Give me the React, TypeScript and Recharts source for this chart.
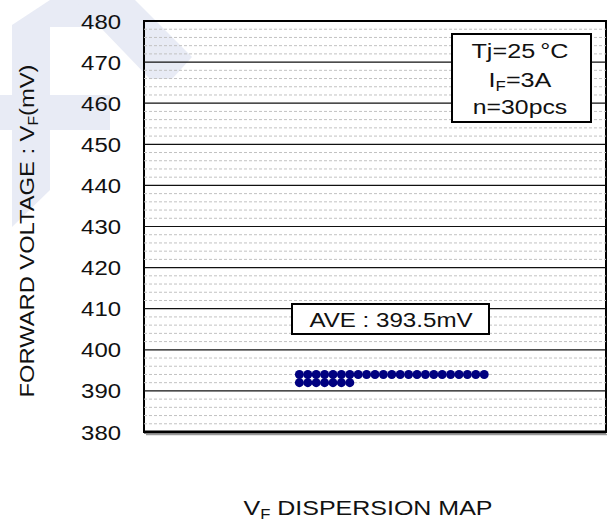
import React from 'react';
import { ScatterChart, Scatter, XAxis, YAxis, ReferenceLine, ReferenceArea } from 'recharts';

// ---- data ----
const yTicks = [380, 390, 400, 410, 420, 430, 440, 450, 460, 470, 480];
const majorGrid = [390, 400, 410, 420, 430, 440, 450, 460, 470];
const minorGrid = [382, 384, 386, 388, 392, 394, 396, 398, 402, 404, 406, 408, 412, 414, 416, 418, 422, 424, 426, 428, 432, 434, 436, 438, 442, 444, 446, 448, 452, 454, 456, 458, 462, 464, 466, 468, 472, 474, 476, 478];
const topRowSample = [1, 2, 3, 4, 5, 6, 7, 8, 9, 10, 11, 12, 13, 14, 15, 16, 17, 18, 19, 20, 21, 22, 23];
const topRowVF = [394, 394, 394, 394, 394, 394, 394, 394, 394, 394, 394, 394, 394, 394, 394, 394, 394, 394, 394, 394, 394, 394, 394];
const bottomRowSample = [1, 2, 3, 4, 5, 6, 7];
const bottomRowVF = [392, 392, 392, 392, 392, 392, 392];
const averageVF = 393.5;
const xDomain = [-17.5, 37.5];
const yDomain = [380, 480];

const topData = topRowSample.map((s, i) => ({ sample: s, vf: topRowVF[i] }));
const bottomData = bottomRowSample.map((s, i) => ({ sample: s, vf: bottomRowVF[i] }));

const FONT = '"Liberation Sans", Arial, sans-serif';
const INK = '#111';

function SText({ x, y, sx = 1.15, anchor = 'middle', size = 21, children }: any) {
  return (
    <text
      transform={`translate(${x},${y}) scale(${sx},1)`}
      textAnchor={anchor}
      fontSize={size}
      fontFamily={FONT}
      fill={INK}
    >
      {children}
    </text>
  );
}

const YTick = (props: any) => {
  const { x, y, payload } = props;
  return <SText x={x} y={y + 7.5} anchor="end" sx={1.14}>{payload.value}</SText>;
};

const Dot = (props: any) => {
  const { cx, cy } = props;
  return <circle cx={cx} cy={cy} r={4.5} fill="#000080" />;
};

export default function App() {
  return (
    <div style={{ position: 'absolute', left: 0, top: 0, width: 608, height: 525, background: '#fff', overflow: 'hidden' }}>
      <svg width={608} height={525} style={{ position: 'absolute', left: 0, top: 0 }}>
        <g fill="#e8ebf5">
          <polygon points="12,25 50,0 50,190 12,227" />
          <polygon points="50,0 80,0 80,27 50,27" />
          <polygon points="0,95 110,95 110,130 0,130" />
          <polygon points="78,0 135,0 192,57 172,79 150,79 100,27 80,27" />
        </g>
      </svg>
      <div style={{ position: 'absolute', left: 0, top: 0 }}>
        <ScatterChart width={608} height={525} margin={{ top: 21, right: 2, bottom: 93, left: 0 }}>
          <XAxis type="number" dataKey="sample" domain={xDomain} hide allowDataOverflow />
          <YAxis
            type="number"
            dataKey="vf"
            domain={yDomain}
            ticks={yTicks}
            width={144}
            axisLine={false}
            tickLine={false}
            tickSize={0}
            tickMargin={23}
            tick={<YTick />}
            interval={0}
            allowDataOverflow
          />
          {minorGrid.map((v) => (
            <ReferenceLine key={'m' + v} y={v} stroke="#c2c2c2" strokeDasharray="3 2" strokeWidth={1} />
          ))}
          {majorGrid.map((v) => (
            <ReferenceLine key={'M' + v} y={v} stroke="#111" strokeWidth={1.2} />
          ))}
          <ReferenceArea x1={xDomain[0]} x2={xDomain[1]} y1={yDomain[0]} y2={yDomain[1]} fill="none" fillOpacity={0} stroke="#000" strokeWidth={2} />
          <ReferenceLine y={yDomain[0]} stroke="#000" strokeWidth={3} />
          <Scatter data={topData} shape={<Dot />} isAnimationActive={false} />
          <Scatter data={bottomData} shape={<Dot />} isAnimationActive={false} />
        </ScatterChart>
      </div>
      <svg width={608} height={525} style={{ position: 'absolute', left: 0, top: 0 }}>
        {/* shadow under the plot frame */}
        <line x1={146} y1={434.5} x2={607} y2={434.5} stroke="#9a9a9a" strokeWidth={1.5} />
        {/* conditions box */}
        <rect x={452} y={34} width={139} height={88} fill="#fff" stroke="#000" strokeWidth={2} />
        <SText x={520} y={58.3} sx={1.2}>{'Tj=25\u2009°C'}</SText>
        <text transform="translate(520,86.7) scale(1.2,1)" textAnchor="middle" fontSize={21} fontFamily={FONT} fill={INK}>
          I<tspan fontSize={14} dy={4}>F</tspan><tspan dy={-4}>=3A</tspan>
        </text>
        <SText x={520} y={114.3} sx={1.18}>n=30pcs</SText>
        {/* average box */}
        <rect x={292} y={304} width={197} height={30} fill="#fff" stroke="#000" strokeWidth={2} />
        <SText x={391} y={326.7} sx={1.15}>{`AVE : ${averageVF}mV`}</SText>
        {/* y axis label */}
        <text transform="translate(34,231) rotate(-90) scale(1.13,1)" textAnchor="middle" fontSize={21} fontFamily={FONT} fill={INK}>
          FORWARD VOLTAGE : V<tspan fontSize={14} dy={4}>F</tspan><tspan dy={-4}>(mV)</tspan>
        </text>
        {/* title */}
        <text transform="translate(368,515) scale(1.19,1)" textAnchor="middle" fontSize={21} fontFamily={FONT} fill={INK}>
          V<tspan fontSize={14} dy={4}>F</tspan><tspan dy={-4}> DISPERSION MAP</tspan>
        </text>
      </svg>
    </div>
  );
}
